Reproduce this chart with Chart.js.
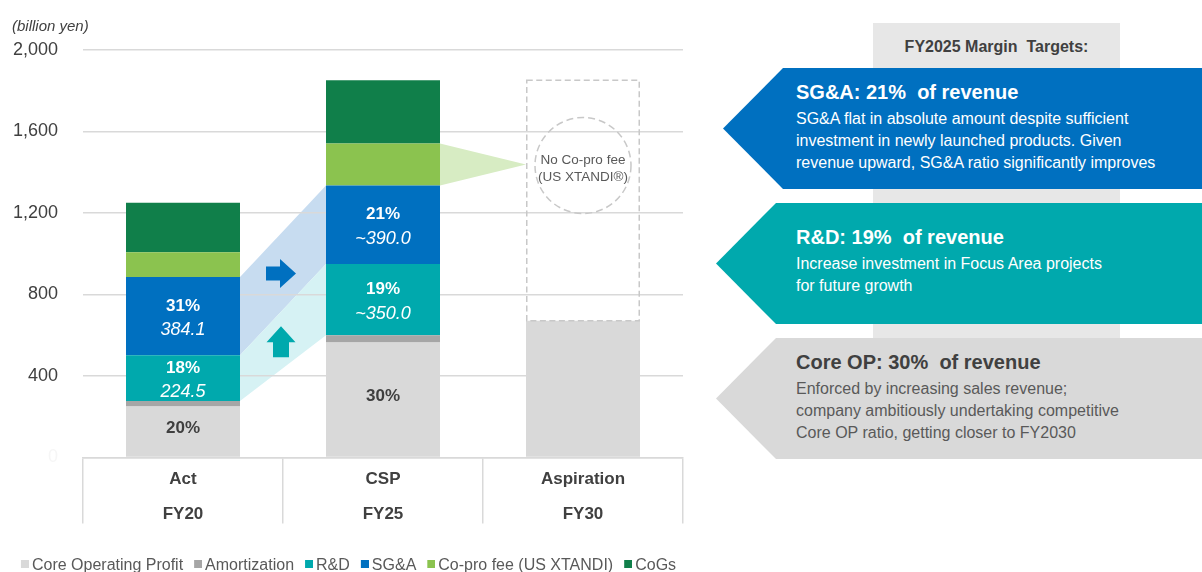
<!DOCTYPE html>
<html>
<head>
<meta charset="utf-8">
<script src="https://cdn.jsdelivr.net/npm/chart.js@4.4.1/dist/chart.umd.min.js"></script>
<style>
html,body{margin:0;padding:0;width:1202px;height:572px;overflow:hidden;background:#fff;font-family:"Liberation Sans",Arial,sans-serif;}
#wrap{position:absolute;left:0;top:0;width:700px;height:600px;}
.abs{position:absolute;white-space:pre;}
.arrow{position:absolute;clip-path:polygon(60px 0,100% 0,100% 100%,60px 100%,0 50%);}
.ttl{font-weight:bold;font-size:20px;line-height:24px;}
.body{font-size:16px;line-height:22px;}
</style>
</head>
<body>
<div id="wrap"><canvas id="c"></canvas></div>
<div class="abs" style="left:12px;top:17px;font-style:italic;font-size:15px;line-height:17px;color:#404040;">(billion yen)</div>

<div class="abs" style="left:873px;top:23px;width:247px;height:436px;background:#e7e7e7;"></div>
<div class="abs" style="left:873px;top:37px;width:247px;text-align:center;font-weight:bold;font-size:16px;line-height:20px;color:#404040;">FY2025 Margin  Targets:</div>

<div class="arrow" style="left:723px;top:68px;width:479px;height:121px;background:#0070c0;"></div>
<div class="abs ttl" style="left:796px;top:80px;color:#fff;">SG&amp;A: 21%  of revenue</div>
<div class="abs body" style="left:796px;top:108px;color:#fff;">SG&amp;A flat in absolute amount despite sufficient
investment in newly launched products. Given
revenue upward, SG&amp;A ratio significantly improves</div>

<div class="arrow" style="left:716px;top:203px;width:486px;height:121px;background:#00a9ad;"></div>
<div class="abs ttl" style="left:796px;top:225px;color:#fff;">R&amp;D: 19%  of revenue</div>
<div class="abs body" style="left:796px;top:253px;color:#fff;">Increase investment in Focus Area projects
for future growth</div>

<div class="arrow" style="left:716px;top:338px;width:486px;height:121px;background:#d9d9d9;"></div>
<div class="abs ttl" style="left:796px;top:350px;color:#404040;">Core OP: 30%  of revenue</div>
<div class="abs body" style="left:796px;top:378px;color:#595959;">Enforced by increasing sales revenue;
company ambitiously undertaking competitive
Core OP ratio, getting closer to FY2030</div>

<script>
const FONT = '"Liberation Sans", Arial, sans-serif';

const categories = [["Act", "FY20"], ["CSP", "FY25"], ["Aspiration", "FY30"]];
const coreOP = [250, 565, 671];
const amortization = [27.5, 35, null];
const rnd = [224.5, 350, null];
const sga = [384.1, 385, null];
const copro = [121, 206, null];
const cogs = [243, 311, null];
const aspirationTotal = 1852;

const yTicks = [0, 400, 800, 1200, 1600, 2000];

const corePct = ["20%", "30%", null];
const rndPct = ["18%", "19%", null];
const rndAmt = ["224.5", "~350.0", null];
const sgaPct = ["31%", "21%", null];
const sgaAmt = ["384.1", "~390.0", null];
const noCoproNote = ["No Co-pro fee", "(US XTANDI\u00AE)"];

const seriesNames = ["Core Operating Profit", "Amortization", "R&D", "SG&A", "Co-pro fee (US XTANDI)", "CoGs"];
const seriesColors = ["#d9d9d9", "#a6a6a6", "#00a9ad", "#0070c0", "#8bc34f", "#107f4a"];

// legend marker: 8x8 square sitting at the right/top of a 10x12 canvas
function marker(color) {
  const c = document.createElement('canvas');
  c.width = 10; c.height = 12;
  const g = c.getContext('2d');
  g.fillStyle = color; g.fillRect(2, 0, 8, 8);
  return c;
}
const markers = seriesColors.map(marker);

function band(ctx, a, c, color) {
  const ax = a.x + a.width / 2, cx = c.x - c.width / 2;
  ctx.save();
  ctx.beginPath();
  ctx.moveTo(ax, a.y); ctx.lineTo(cx, c.y); ctx.lineTo(cx, c.base); ctx.lineTo(ax, a.base);
  ctx.closePath(); ctx.fillStyle = color; ctx.fill();
  ctx.restore();
}

const deco = {
  id: 'deco',
  beforeDraw(chart) {
    const ctx = chart.ctx;
    const d = i => chart.getDatasetMeta(i).data;
    band(ctx, d(3)[0], d(3)[1], '#c7dcf0');
    band(ctx, d(2)[0], d(2)[1], '#d6f2f4');
  },
  afterDatasetsDraw(chart) {
    const ctx = chart.ctx;
    const y = chart.scales.y;
    const d = i => chart.getDatasetMeta(i).data;
    ctx.save();
    // green triangle from FY25 co-pro to FY30
    const cp = d(4)[1];
    const asp = d(0)[2];
    const apexY = (cp.y + cp.base) / 2;
    const aspL = asp.x - asp.width / 2, aspR = asp.x + asp.width / 2;
    ctx.beginPath();
    ctx.moveTo(cp.x + cp.width / 2, cp.y);
    ctx.lineTo(aspL, apexY);
    ctx.lineTo(cp.x + cp.width / 2, cp.base);
    ctx.closePath();
    ctx.fillStyle = '#d7ecc3'; ctx.fill();

    // arrows between bars
    const b0 = d(3)[0], b1 = d(3)[1];
    const gx = ((b0.x + b0.width / 2) + (b1.x - b1.width / 2)) / 2 - 2;
    let cy = y.getPixelForValue(903);
    ctx.beginPath();
    ctx.moveTo(gx - 15, cy - 7); ctx.lineTo(gx - 1, cy - 7); ctx.lineTo(gx - 1, cy - 14.5);
    ctx.lineTo(gx + 15, cy); ctx.lineTo(gx - 1, cy + 14.5); ctx.lineTo(gx - 1, cy + 7);
    ctx.lineTo(gx - 15, cy + 7); ctx.closePath();
    ctx.fillStyle = '#0070c0'; ctx.fill();
    cy = y.getPixelForValue(568);
    ctx.beginPath();
    ctx.moveTo(gx, cy - 15.5); ctx.lineTo(gx + 14.5, cy + 0.5); ctx.lineTo(gx + 8, cy + 0.5);
    ctx.lineTo(gx + 8, cy + 15.5); ctx.lineTo(gx - 8, cy + 15.5); ctx.lineTo(gx - 8, cy + 0.5);
    ctx.lineTo(gx - 14.5, cy + 0.5); ctx.closePath();
    ctx.fillStyle = '#00a9ad'; ctx.fill();

    // dashed aspiration box
    const topY = y.getPixelForValue(aspirationTotal);
    ctx.setLineDash([6, 3.5]);
    ctx.lineWidth = 1.5; ctx.strokeStyle = '#c8c8c8';
    ctx.strokeRect(aspL + 0.75, topY, aspR - aspL - 1.5, asp.y - topY);
    // dashed circle
    ctx.setLineDash([7, 4]);
    ctx.beginPath(); ctx.arc(asp.x, apexY + 1, 48, 0, Math.PI * 2); ctx.stroke();
    ctx.setLineDash([]);
    ctx.fillStyle = '#595959';
    ctx.font = '13.5px ' + FONT;
    ctx.textAlign = 'center'; ctx.textBaseline = 'middle';
    ctx.fillText(noCoproNote[0], asp.x, apexY - 4);
    ctx.fillText(noCoproNote[1], asp.x, apexY + 13);

    // bar labels
    const two = (bar, a, b) => {
      const c = (bar.y + bar.base) / 2;
      ctx.fillStyle = '#fff';
      ctx.font = 'bold 17px ' + FONT; ctx.fillText(a, bar.x, c - 10);
      ctx.font = 'italic 18px ' + FONT; ctx.fillText(b, bar.x, c + 14);
    };
    for (let i = 0; i < 3; i++) {
      if (sgaPct[i]) two(d(3)[i], sgaPct[i], sgaAmt[i]);
      if (rndPct[i]) two(d(2)[i], rndPct[i], rndAmt[i]);
      if (corePct[i]) {
        const bar = d(0)[i];
        ctx.fillStyle = '#404040'; ctx.font = 'bold 17px ' + FONT;
        ctx.fillText(corePct[i], bar.x, (bar.y + bar.base) / 2 - 3);
      }
    }
    ctx.restore();
  }
};

const seriesData = [coreOP, amortization, rnd, sga, copro, cogs];

new Chart(document.getElementById('c'), {
  type: 'bar',
  data: {
    labels: categories,
    datasets: seriesData.map((arr, i) => ({
      label: seriesNames[i],
      data: arr,
      backgroundColor: seriesColors[i],
      borderWidth: 0,
      categoryPercentage: 1,
      barPercentage: 0.57
    }))
  },
  options: {
    responsive: true,
    maintainAspectRatio: false,
    animation: false,
    events: [],
    layout: { padding: { top: 50, right: 0, left: 0, bottom: 16 } },
    plugins: {
      tooltip: { enabled: false },
      legend: {
        position: 'bottom',
        labels: {
          usePointStyle: true, pointStyleWidth: 0.01, boxHeight: 9,
          padding: 14, color: '#595959',
          font: { size: 16, family: FONT },
          generateLabels: chart => Chart.defaults.plugins.legend.labels.generateLabels(chart)
            .map((it, i) => Object.assign(it, { pointStyle: markers[i] }))
        }
      }
    },
    scales: {
      x: {
        stacked: true,
        offset: true,
        border: { display: true, color: '#d9d9d9', width: 1.5 },
        grid: { display: true, offset: true, drawOnChartArea: false, drawTicks: true, tickLength: 66, color: '#d9d9d9', lineWidth: 1.5 },
        ticks: { color: '#404040', font: { size: 17, weight: 'bold', family: FONT, lineHeight: '35px' }, padding: -62, maxRotation: 0, autoSkip: false },
        afterFit: s => { s.height = 86.5; }
      },
      y: {
        stacked: true,
        min: 0, max: 2000,
        border: { display: false },
        grid: { color: '#d9d9d9', lineWidth: 1.5, drawTicks: false },
        afterBuildTicks: s => { s.ticks = yTicks.map(v => ({ value: v })); },
        ticks: {
          padding: 25,
          color: c => (c.tick && c.tick.value === 0) ? '#f6f6f6' : '#404040',
          font: { size: 18, family: FONT },
          callback: v => v.toLocaleString('en-US')
        },
        afterFit: s => { s.width = 83; }
      },
      spacer: {
        type: 'linear',
        position: 'right',
        display: true,
        grid: { display: false },
        border: { display: false },
        ticks: { display: false },
        afterFit: s => { s.width = 17; }
      }
    }
  },
  plugins: [deco]
});
</script>
</body>
</html>
